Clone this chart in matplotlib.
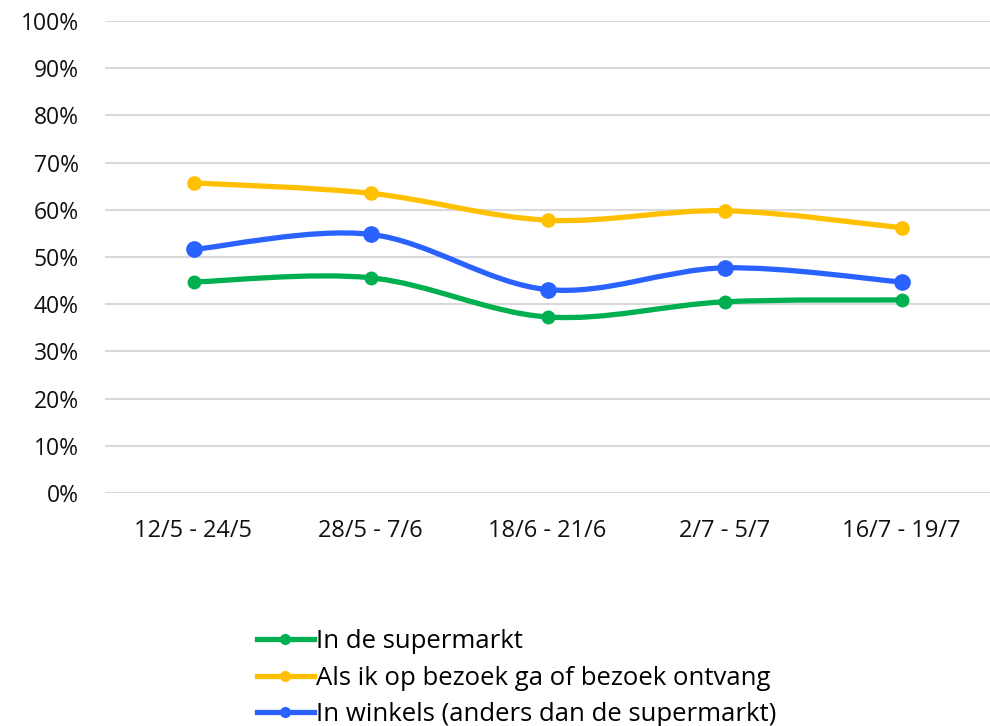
import numpy as np
import matplotlib
matplotlib.use("Agg")
import matplotlib.pyplot as plt
from matplotlib.path import Path
from matplotlib.patches import PathPatch
from matplotlib.lines import Line2D

periods = ["12/5 - 24/5", "28/5 - 7/6", "18/6 - 21/6", "2/7 - 5/7", "16/7 - 19/7"]
supermarkt = [44.7, 45.6, 37.3, 40.5, 40.9]
bezoek = [65.7, 63.5, 57.8, 59.8, 56.2]
winkels = [51.6, 54.8, 43.1, 47.7, 44.7]

names = ["In de supermarkt",
         "Als ik op bezoek ga of bezoek ontvang",
         "In winkels (anders dan de supermarkt)"]
colors = ["#00B050", "#FFC000", "#2962FF"]
msizes = [9, 9.5, 11]

plt.rcParams['font.family'] = ['Open Sans', 'DejaVu Sans']

fig = plt.figure(figsize=(9.9, 7.26), dpi=100)
ax = fig.add_axes([105/990, 1-493/726, 1-105/990, (493-21)/726])


def smooth_path(xs, ys):
    # bezier like excel "smoothed line"
    pts = np.column_stack([xs, ys]).astype(float)
    n = len(pts)
    verts = [pts[0]]
    codes = [Path.MOVETO]
    for i in range(n-1):
        p0 = pts[i-1] if i > 0 else pts[i]
        p1 = pts[i]
        p2 = pts[i+1]
        p3 = pts[i+2] if i+2 < n else pts[i+1]
        c1 = p1 + (p2 - p0)/6.0
        c2 = p2 - (p3 - p1)/6.0
        verts += [c1, c2, p2]
        codes += [Path.CURVE4]*3
    return Path(verts, codes)


x = np.arange(len(periods))
series = [supermarkt, bezoek, winkels]
for vals, c, ms in zip(series, colors, msizes):
    ax.add_patch(PathPatch(smooth_path(x, vals), fill=False, edgecolor=c,
                           lw=3.8, capstyle='round', zorder=3))
    ax.plot(x, vals, 'o', color=c, ms=ms, zorder=4)

ax.set_xlim(-0.5, len(periods)-0.5)
ax.set_ylim(0, 100)
ax.set_yticks(np.arange(0, 101, 10))
ax.set_yticklabels([f"{v}%" for v in range(0, 101, 10)], fontsize=16.5, color='#111111')
ax.set_xticks(x)
ax.set_xticklabels(periods, fontsize=17, color='#111111')
ax.tick_params(axis='both', length=0)
ax.tick_params(axis='y', pad=19)
ax.tick_params(axis='x', pad=19)
ax.grid(axis='y', color='#d9d9d9', lw=1.5)
ax.set_axisbelow(True)
for s in ax.spines.values():
    s.set_visible(False)

handles = [Line2D([], [], color=c, lw=3.8, marker='o', ms=7)
           for c in colors]
fig.legend(handles, names, loc='upper left', bbox_to_anchor=(257/990, 1-629/726),
           frameon=False, fontsize=18.5, handlelength=2.2, handletextpad=0.1,
           labelspacing=0.45, borderaxespad=0, borderpad=0)

fig.savefig("out.png", dpi=100)
